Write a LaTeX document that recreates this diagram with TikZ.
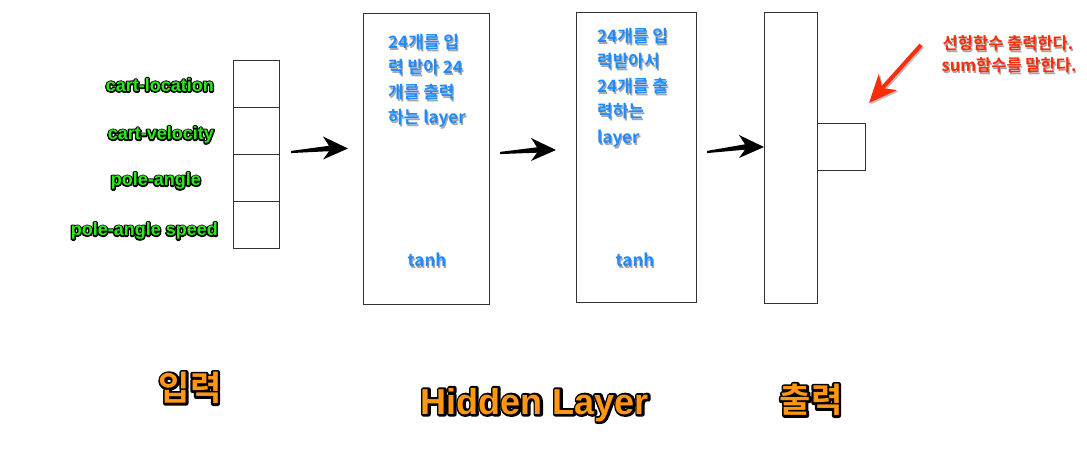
\documentclass[tikz,border=0pt]{standalone}
\usepackage{fontspec}
\setmainfont{Liberation Sans}
\newfontfamily\kr{Noto Sans CJK KR}[BoldFont={Noto Sans CJK KR Bold}]
\usetikzlibrary{arrows.meta,calc}
\definecolor{lgreen}{RGB}{40,235,20}
\definecolor{lblue}{RGB}{30,140,255}
\definecolor{lred}{RGB}{250,45,10}
\definecolor{lorange}{RGB}{255,150,20}
\definecolor{boxline}{RGB}{50,50,50}
\newcommand\shadtxt[1]{\makebox[0pt][l]{\raisebox{-1.2pt}{\hspace{1.2pt}\textcolor{black!35}{#1}}}#1}
% outlined text: a stroked black copy below the filled one
\newcommand\outl[2]{\makebox[0pt][l]{\color{black}\special{pdf:literal direct 1 Tr #1 w 1 j}#2\special{pdf:literal direct 0 Tr 0.4 w 0 j}}#2}
% tapered black arrow from #1 to #2
\newcommand\tarrow[2]{\fill[black] ($(#1)+(0,-1.1)$) -- ($(#2)+(-19,-2.7)$) -- ($(#2)+(-25,-12)$) -- (#2) -- ($(#2)+(-25,11)$) -- ($(#2)+(-19,2.7)$) -- ($(#1)+(0,1.1)$) -- cycle;}
\begin{document}
\begin{tikzpicture}[x=1pt,y=-1pt,
  cell/.style={draw=boxline,line width=0.9pt,fill=white},
  glab/.style={anchor=east,inner sep=0pt,text=lgreen,font=\fontsize{18}{20}\selectfont\bfseries},
  blab/.style={anchor=base west,inner sep=0pt,text=lblue,font=\kr\fontsize{17}{19}\selectfont\bfseries},
  rlab/.style={anchor=base,inner sep=0pt,text=lred,font=\kr\fontsize{16.5}{18}\selectfont\bfseries},
  olab/.style={anchor=center,inner sep=0pt,text=lorange},
  redarrow/.style={draw=lred,line width=4pt,-{Stealth[length=28pt,width=24pt,inset=8pt]}}]
\useasboundingbox[fill=white] (0,0) rectangle (1087,470);

% input cells
\draw[cell] (233,60) rectangle (279,107);
\draw[cell] (233,107) rectangle (279,154);
\draw[cell] (233,154) rectangle (279,201);
\draw[cell] (233,201) rectangle (279,248);

% hidden layers
\node[cell,minimum width=126pt,minimum height=291pt,inner sep=0pt] (h1) at (426,158.5) {};
\node[cell,minimum width=120pt,minimum height=290pt,inner sep=0pt] (h2) at (636,157) {};
\node[cell,minimum width=53pt,minimum height=291pt,inner sep=0pt] (o1) at (790.5,157.5) {};
\draw[cell] (817,123) rectangle (865,170);

% black arrows
\coordinate (a1s) at (291,152);
\coordinate (a1e) at (348,148.5);
\coordinate (a2s) at (500,153);
\coordinate (a2e) at (556,150);
\coordinate (a3s) at (707,152);
\coordinate (a3e) at (764,147);
\tarrow{a1s}{a1e}
\tarrow{a2s}{a2e}
\tarrow{a3s}{a3e}

% red arrow
\coordinate (ra) at (921,45);
\coordinate (rb) at (869,103);
\draw[redarrow,draw=black!25,fill=black!25] ([shift={(1.5,1.5)}]ra) -- ([shift={(1.5,1.5)}]rb);
\draw[redarrow,fill=lred] (ra) -- (rb);

% texts
\node[blab] (t11) at (388,49) {\shadtxt{24개를 입}};
\node[blab] (t12) at (388,74) {\shadtxt{력 받아 24}};
\node[blab] (t13) at (388,99) {\shadtxt{개를 출력}};
\node[blab] (t14) at (388,124) {\shadtxt{하는 layer}};
\node[blab,anchor=base] (t15) at (427,267) {\shadtxt{tanh}};

\node[blab] (t21) at (597,43) {\shadtxt{24개를 입}};
\node[blab] (t22) at (597,68) {\shadtxt{력받아서}};
\node[blab] (t23) at (597,93) {\shadtxt{24개를 출}};
\node[blab] (t24) at (597,118) {\shadtxt{력하는}};
\node[blab] (t25) at (597,144) {\shadtxt{layer}};
\node[blab,anchor=base] (t26) at (635,267) {\shadtxt{tanh}};

\node[rlab] (r1) at (1008,50) {\shadtxt{선형함수 출력한다.}};
\node[rlab] (r2) at (1009,72) {\shadtxt{sum함수를 말한다.}};

% input labels (outlined)
\node[glab] (l1) at (214,85) {\outl{2.8}{cart-location}};
\node[glab] (l2) at (214,135) {\outl{2.8}{cart-velocity}};
\node[glab] (l3) at (201,181) {\outl{2.8}{pole-angle}};
\node[glab] (l4) at (218,231) {\outl{2.8}{pole-angle speed}};

% bottom titles
\node[olab,font=\kr\fontsize{34}{36}\selectfont\bfseries] (b1) at (190,388) {\outl{4.5}{입력}};
\node[olab,font=\fontsize{36}{38}\selectfont\bfseries] (b2) at (535,405) {\outl{4.5}{Hidden Layer}};
\node[olab,font=\kr\fontsize{34}{36}\selectfont\bfseries] (b3) at (811,400) {\outl{4.5}{출력}};
\end{tikzpicture}
\end{document}
